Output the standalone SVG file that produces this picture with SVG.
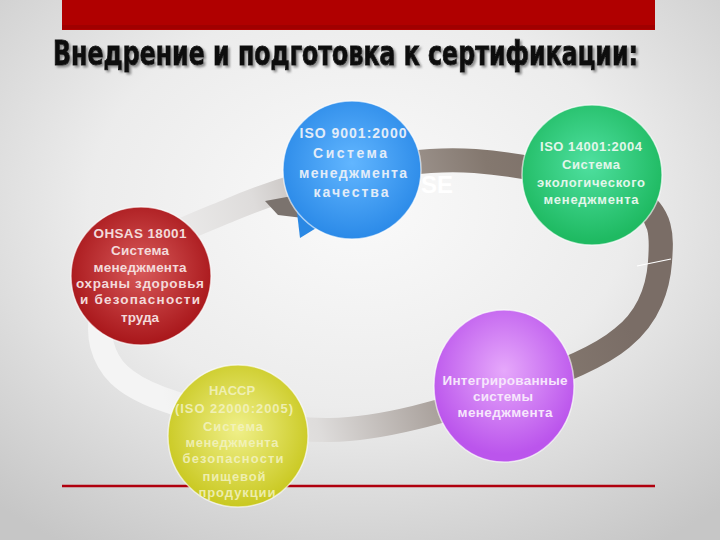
<svg xmlns="http://www.w3.org/2000/svg" width="720" height="540" viewBox="0 0 720 540">
<defs>
<radialGradient id="bg" cx="50%" cy="38%" r="75%">
<stop offset="0" stop-color="#fafafa"/>
<stop offset="0.5" stop-color="#ececec"/>
<stop offset="1" stop-color="#c6c6c6"/>
</radialGradient>
<linearGradient id="ringG" gradientUnits="userSpaceOnUse" x1="150" y1="350" x2="600" y2="220">
<stop offset="0" stop-color="#f4f4f4"/>
<stop offset="0.3" stop-color="#dedcdb"/>
<stop offset="0.55" stop-color="#aaa29d"/>
<stop offset="0.8" stop-color="#84786f"/>
<stop offset="1" stop-color="#7a6d66"/>
</linearGradient>
<radialGradient id="gBlue" cx="50%" cy="45%" r="55%">
<stop offset="0" stop-color="#62b6ff"/>
<stop offset="1" stop-color="#2b8ae8"/>
</radialGradient>
<radialGradient id="gGreen" cx="48%" cy="42%" r="55%">
<stop offset="0" stop-color="#4fe0a0"/>
<stop offset="1" stop-color="#1fba62"/>
</radialGradient>
<radialGradient id="gRed" cx="50%" cy="45%" r="55%">
<stop offset="0" stop-color="#d85a5a"/>
<stop offset="1" stop-color="#a8161a"/>
</radialGradient>
<radialGradient id="gYellow" cx="50%" cy="45%" r="55%">
<stop offset="0" stop-color="#f0f08a"/>
<stop offset="1" stop-color="#c9c820"/>
</radialGradient>
<radialGradient id="gPurple" cx="50%" cy="40%" r="55%">
<stop offset="0" stop-color="#e6a8fb"/>
<stop offset="1" stop-color="#bb55ec"/>
</radialGradient>
<filter id="shadow" x="-5%" y="-30%" width="110%" height="160%">
<feDropShadow dx="2" dy="2" stdDeviation="1" flood-color="#777777" flood-opacity="0.8"/>
</filter>
<style>
.node{stroke:#ffffff;stroke-opacity:0.6;stroke-width:1.5}
.t{font-family:"Liberation Sans",Arial,sans-serif;font-weight:bold;text-anchor:middle}
.tb{fill:#e2ecf8;font-size:14px}
.tg{fill:#e2f6ea;font-size:13px}
.tr{fill:#f3dada;font-size:13.5px}
.ty{fill:#f3f3c4;font-size:13px;fill-opacity:0.85}
.tp{fill:#f6e6fc;font-size:13.5px}
</style>
</defs>
<rect width="720" height="540" fill="url(#bg)"/>
<g id="header">
<rect x="62" y="0" width="593" height="30" fill="#b00000"/>
<rect x="62" y="25" width="593" height="4" fill="#a00000"/>
</g>
<g id="title" filter="url(#shadow)">
<text transform="translate(53,65) scale(1,1.3)" x="0" y="0" font-family="'DejaVu Sans Condensed','Liberation Sans',sans-serif" font-weight="bold" font-size="26" fill="#111111" stroke="#111111" stroke-width="0.7" textLength="585" lengthAdjust="spacingAndGlyphs">Внедрение и подготовка к сертификации:</text>
</g>
<line x1="62" y1="486" x2="655" y2="486" stroke="#b0000e" stroke-width="2.5"/>
<g id="connectors">
<path d="M475,161 C523.7,164.8 604,180 634,197 C664,214 661.7,238.7 660,262 C658.3,285.3 649.8,316.2 622,338 C596.2,359.8 548.7,377.7 500,393 C451.3,408.3 386.7,429.2 330,430 C273.3,430.8 198,412.2 160,398 C122,383.8 107.8,367.2 102,345 C96.2,322.8 103.7,287.5 125,265 C146.3,242.5 194.2,225 230,210 C265.8,195 299.2,183.2 340,175 C380.8,166.8 426.3,157.2 475,161 Z" fill="none" stroke="url(#ringG)" stroke-width="24"/>
<polygon points="265,201 303,194 303,218 278,215" fill="#7b736e"/>
<line x1="637" y1="266" x2="671" y2="259" stroke="#ffffff" stroke-width="1.2"/>
</g>
<text x="421" y="193" font-family="'Liberation Sans',Arial,sans-serif" font-weight="bold" font-size="24" fill="#ffffff">SE</text>
<g id="node-ohsas">
<ellipse class="node" cx="141" cy="276" rx="70" ry="69" fill="url(#gRed)"/>
<text class="t tr" x="140" y="238" textLength="93">OHSAS 18001</text>
<text class="t tr" x="140" y="255" textLength="58">Система</text>
<text class="t tr" x="140" y="272" textLength="93">менеджмента</text>
<text class="t tr" x="140" y="288" textLength="128">охраны здоровья</text>
<text class="t tr" x="140" y="304" textLength="120">и безопасности</text>
<text class="t tr" x="140" y="322">труда</text>
</g>
<g id="node-haccp">
<ellipse class="node" cx="238" cy="436" rx="70" ry="71" fill="url(#gYellow)"/>
<text class="t ty" x="232" y="395">HACCP</text>
<text class="t ty" x="234" y="413" textLength="118">(ISO 22000:2005)</text>
<text class="t ty" x="233" y="431" textLength="60">Система</text>
<text class="t ty" x="232" y="447" textLength="93">менеджмента</text>
<text class="t ty" x="233" y="463" textLength="101">безопасности</text>
<text class="t ty" x="234" y="481" textLength="63">пищевой</text>
<text class="t ty" x="237" y="497" textLength="77">продукции</text>
</g>
<g id="node-ims">
<ellipse class="node" cx="504" cy="386" rx="70" ry="76" fill="url(#gPurple)"/>
<text class="t tp" x="505" y="385" textLength="125">Интегрированные</text>
<text class="t tp" x="503" y="401" textLength="60">системы</text>
<text class="t tp" x="505" y="417" textLength="95">менеджмента</text>
</g>
<g id="node-iso14001">
<ellipse class="node" cx="592" cy="175" rx="70" ry="70" fill="url(#gGreen)"/>
<text class="t tg" x="591" y="151" textLength="102">ISO 14001:2004</text>
<text class="t tg" x="591" y="169" textLength="58">Система</text>
<text class="t tg" x="591" y="187" textLength="108">экологического</text>
<text class="t tg" x="591" y="204" textLength="95">менеджмента</text>
</g>
<g id="node-iso9001">
<polygon points="296,204 300,238 326,222" fill="#2a88e4"/>
<circle class="node" cx="352" cy="170" r="69" fill="url(#gBlue)"/>
<text class="t tb" x="353" y="138" textLength="107">ISO 9001:2000</text>
<text class="t tb" x="350" y="158" textLength="74">Система</text>
<text class="t tb" x="353" y="178" textLength="108">менеджмента</text>
<text class="t tb" x="351" y="197" textLength="75">качества</text>
</g>
</svg>
